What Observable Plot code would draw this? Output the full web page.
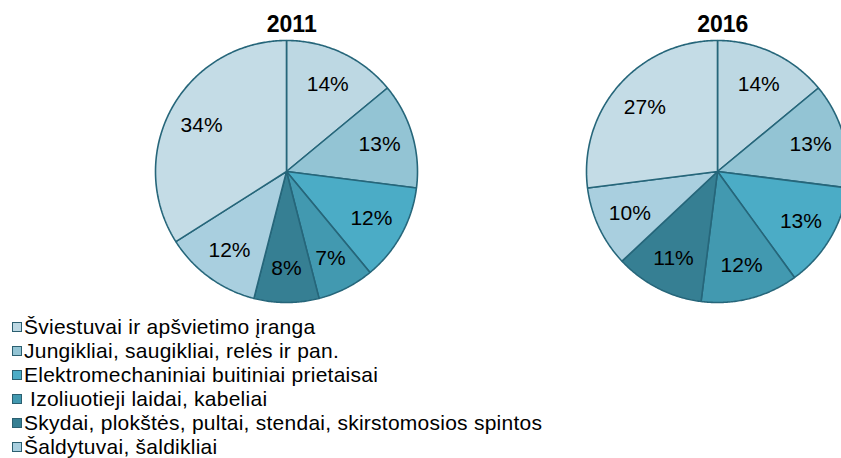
<!DOCTYPE html>
<html>
<head>
<meta charset="utf-8">
<script src="https://cdn.jsdelivr.net/npm/d3@7"></script>
<script src="https://cdn.jsdelivr.net/npm/@observablehq/plot@0.6"></script>
<style>
  html, body { margin: 0; padding: 0; background: #fff; width: 841px; height: 458px; overflow: hidden; }
  body { font-family: "Liberation Sans", Arial, sans-serif; }
  #legend { padding-top: 5px; }
  .item { display: flex; align-items: center; height: 24px; font-size: 21px; letter-spacing: 0.25px; color: #000; white-space: pre; }
  .sw { width: 8px; height: 8px; border: 1.5px solid #2b5f70; margin-left: 12px; margin-right: 2px; flex: none; }
</style>
</head>
<body>
<div id="chart"></div>
<div id="legend"></div>
<script>
const categories = [
  "Šviestuvai ir apšvietimo įranga",
  "Jungikliai, saugikliai, relės ir pan.",
  "Elektromechaniniai buitiniai prietaisai",
  " Izoliuotieji laidai, kabeliai",
  "Skydai, plokštės, pultai, stendai, skirstomosios spintos",
  "Šaldytuvai, šaldikliai",
  "Kiti"
];
const years = ["2011", "2016"];
const values2011 = [14, 13, 12, 7, 8, 12, 34];
const values2016 = [14, 13, 13, 12, 11, 10, 27];
const colors = ["#bdd8e3", "#93c4d4", "#4bacc6", "#4299b0", "#367f93", "#a9cfdf", "#c4dce6"];

const W = 841, H = 310;
const R = 131;              // pie radius in px
const C1 = 286, C2 = 717, CY = 171;  // pie centres in px
const cxs = [0, (C2 - C1) / R];

const series = [values2011, values2016];
const polys = [];
const labels = [];
series.forEach((vals, yi) => {
  const total = d3.sum(vals);
  let acc = 0;
  vals.forEach((v, i) => {
    const a0 = acc / total * 2 * Math.PI;
    acc += v;
    const a1 = acc / total * 2 * Math.PI;
    const key = years[yi] + "-" + i;
    polys.push({key, category: categories[i], x: cxs[yi], y: 0});
    const n = Math.max(2, Math.ceil((a1 - a0) / 0.01));
    for (let k = 0; k <= n; k++) {
      const a = a0 + (a1 - a0) * k / n;
      polys.push({key, category: categories[i], x: cxs[yi] + Math.sin(a), y: Math.cos(a)});
    }
    polys.push({key, category: categories[i], x: cxs[yi], y: 0});
    const am = (a0 + a1) / 2;
    labels.push({x: cxs[yi] + 0.74 * Math.sin(am), y: 0.74 * Math.cos(am), text: v + "%"});
  });
});
const titles = years.map((yr, i) => ({x: cxs[i] + 0.04, y: (CY - 24) / R, text: yr}));

const chart = Plot.plot({
  width: W, height: H,
  margin: 0,
  style: {fontFamily: "'Liberation Sans', Arial, sans-serif", overflow: "hidden"},
  x: {domain: [-C1 / R, (W - C1) / R], range: [0, W], axis: null},
  y: {domain: [-(H - CY) / R, CY / R], range: [H, 0], axis: null},
  color: {domain: categories, range: colors},
  marks: [
    Plot.line(polys, {x: "x", y: "y", z: "key", fill: "category", stroke: "#26667a", strokeWidth: 1.6, strokeLinejoin: "miter", curve: "linear"}),
    Plot.text(labels, {x: "x", y: "y", text: "text", fontSize: 21, fill: "#000"}),
    Plot.text(titles, {x: "x", y: "y", text: "text", fontSize: 23, fontWeight: "bold", fill: "#000"})
  ]
});
document.getElementById("chart").appendChild(chart);

const legend = document.getElementById("legend");
categories.forEach((c, i) => {
  const row = document.createElement("div");
  row.className = "item";
  const sw = document.createElement("span");
  sw.className = "sw";
  sw.style.background = colors[i];
  const t = document.createElement("span");
  t.textContent = c;
  row.appendChild(sw);
  row.appendChild(t);
  legend.appendChild(row);
});
</script>
</body>
</html>
